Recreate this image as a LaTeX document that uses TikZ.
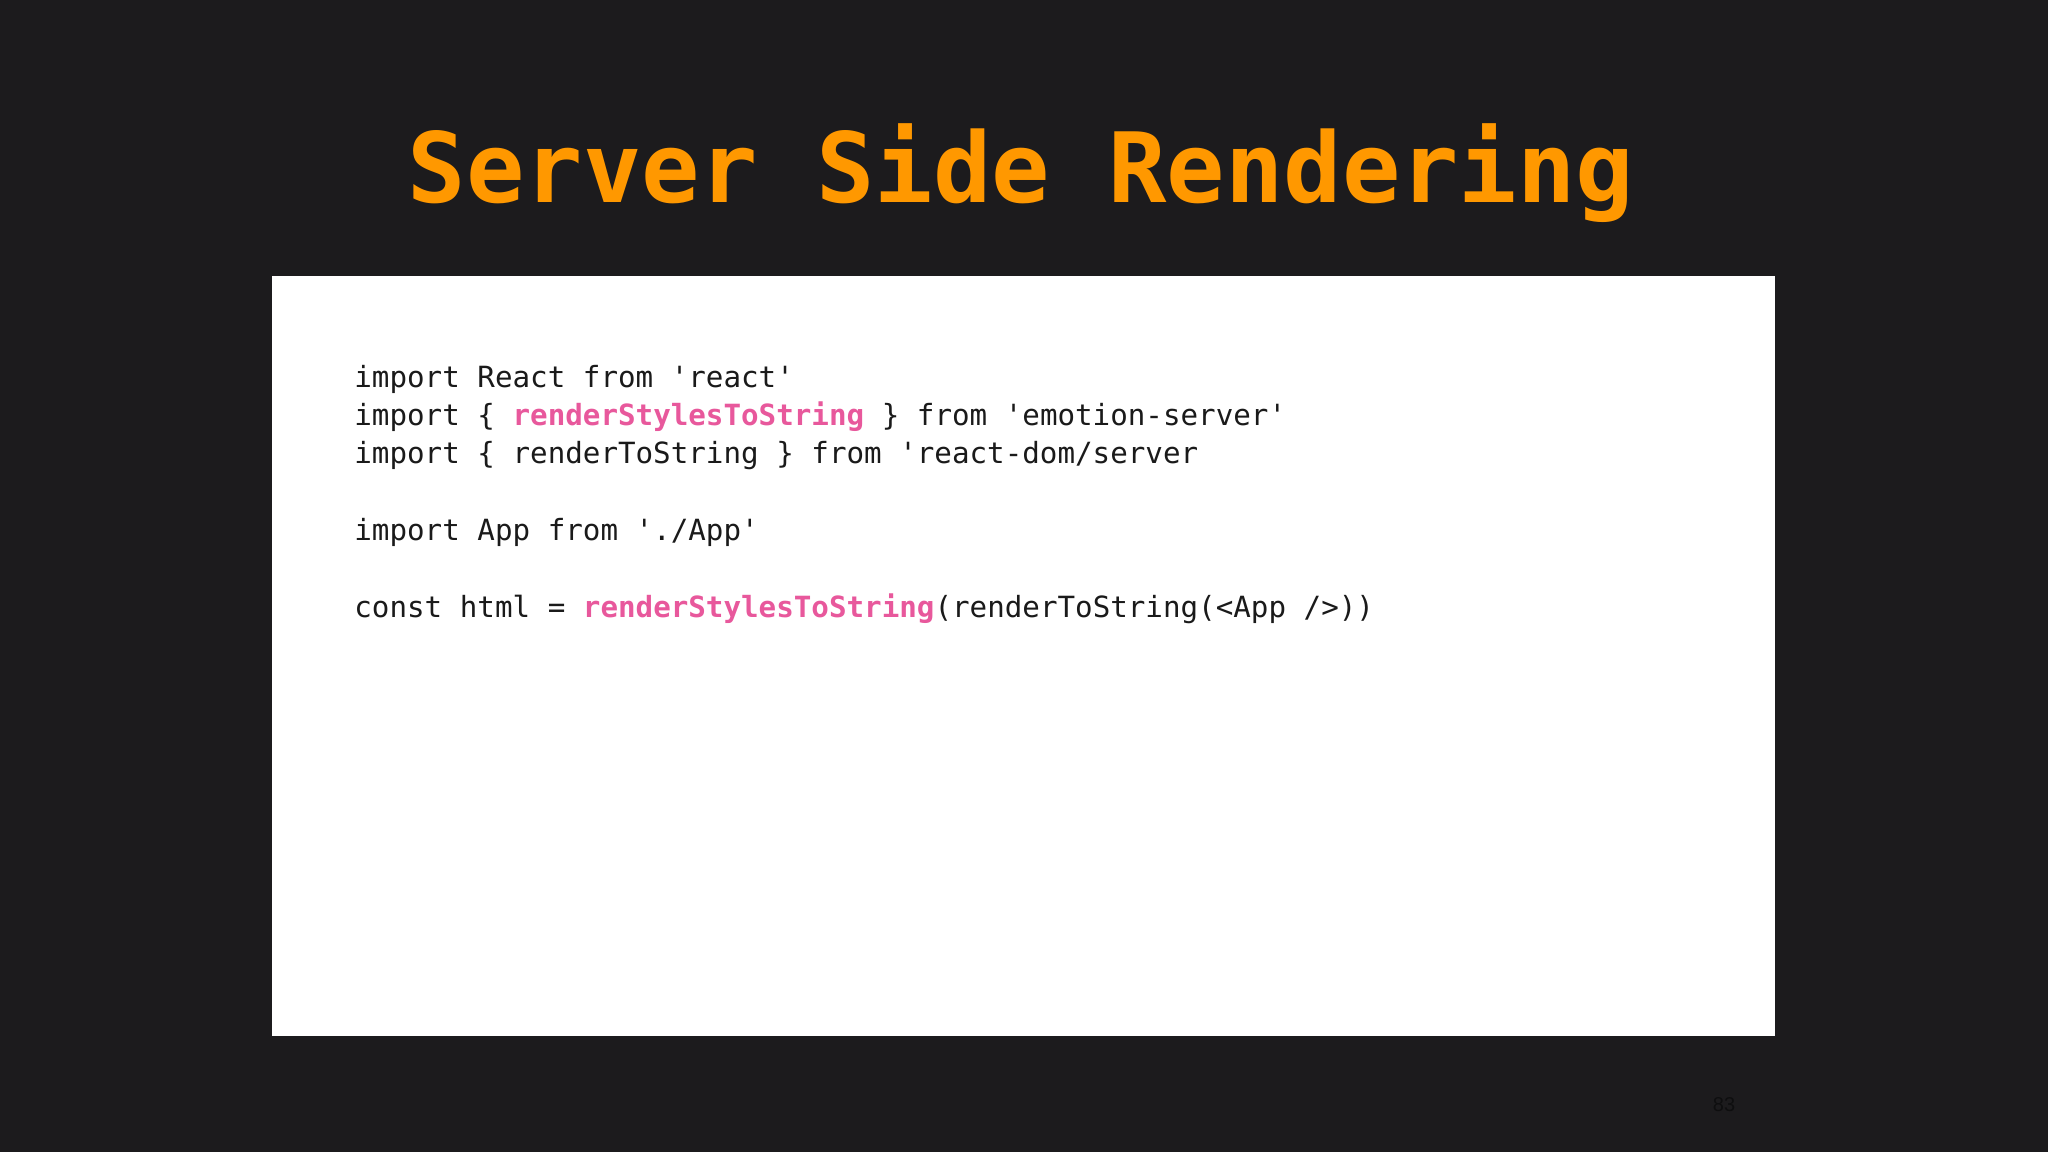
\documentclass[tikz,border=0pt]{standalone}
\usepackage{fontspec}
\setmonofont{DejaVu Sans Mono}
\setsansfont{Liberation Sans}
\usetikzlibrary{positioning}
\definecolor{slidebg}{HTML}{1C1B1D}
\definecolor{titleorange}{HTML}{FF9800}
\definecolor{codepink}{HTML}{E8589C}
\definecolor{codeink}{HTML}{1A1A1A}
\definecolor{pagenum}{HTML}{0E0E0F}
\newcommand{\pinkcode}[1]{\textbf{\textcolor{codepink}{#1}}}

\begin{document}
\begin{tikzpicture}[x=0.5pt, y=-0.5pt,
    code/.style = {anchor=base west, inner sep=0pt, text=codeink, font=\ttfamily\fontsize{14.6}{18}\selectfont}]
    \fill[slidebg] (0,0) rectangle (2048,1152);
    \useasboundingbox (0,0) rectangle (2048,1152);
    \node[anchor=base, inner sep=0pt, text=titleorange, font=\ttfamily\bfseries\fontsize{48.5}{60}\selectfont] (title) at (1021,202) {Server Side Rendering};
    \node[fill=white, minimum width=751.5pt, minimum height=380pt, inner sep=0pt] (box) at (1023.5,656) {};
    \node[code] (l1) at (354,387) {import React from 'react'};
    \node[code] (l2) at ([yshift=-19.2pt]l1.base west) {import \{ \pinkcode{renderStylesToString} \} from 'emotion-server'};
    \node[code] (l3) at ([yshift=-19.2pt]l2.base west) {import \{ renderToString \} from 'react-dom/server};
    \node[code] (l4) at ([yshift=-38.4pt]l3.base west) {import App from './App'};
    \node[code] (l5) at ([yshift=-38.4pt]l4.base west) {const html = \pinkcode{renderStylesToString}(renderToString(<App />))};
    \node[inner sep=0pt, text=pagenum, font=\sffamily\fontsize{10}{12}\selectfont] (page) at (1724,1105) {83};
\end{tikzpicture}
\end{document}
